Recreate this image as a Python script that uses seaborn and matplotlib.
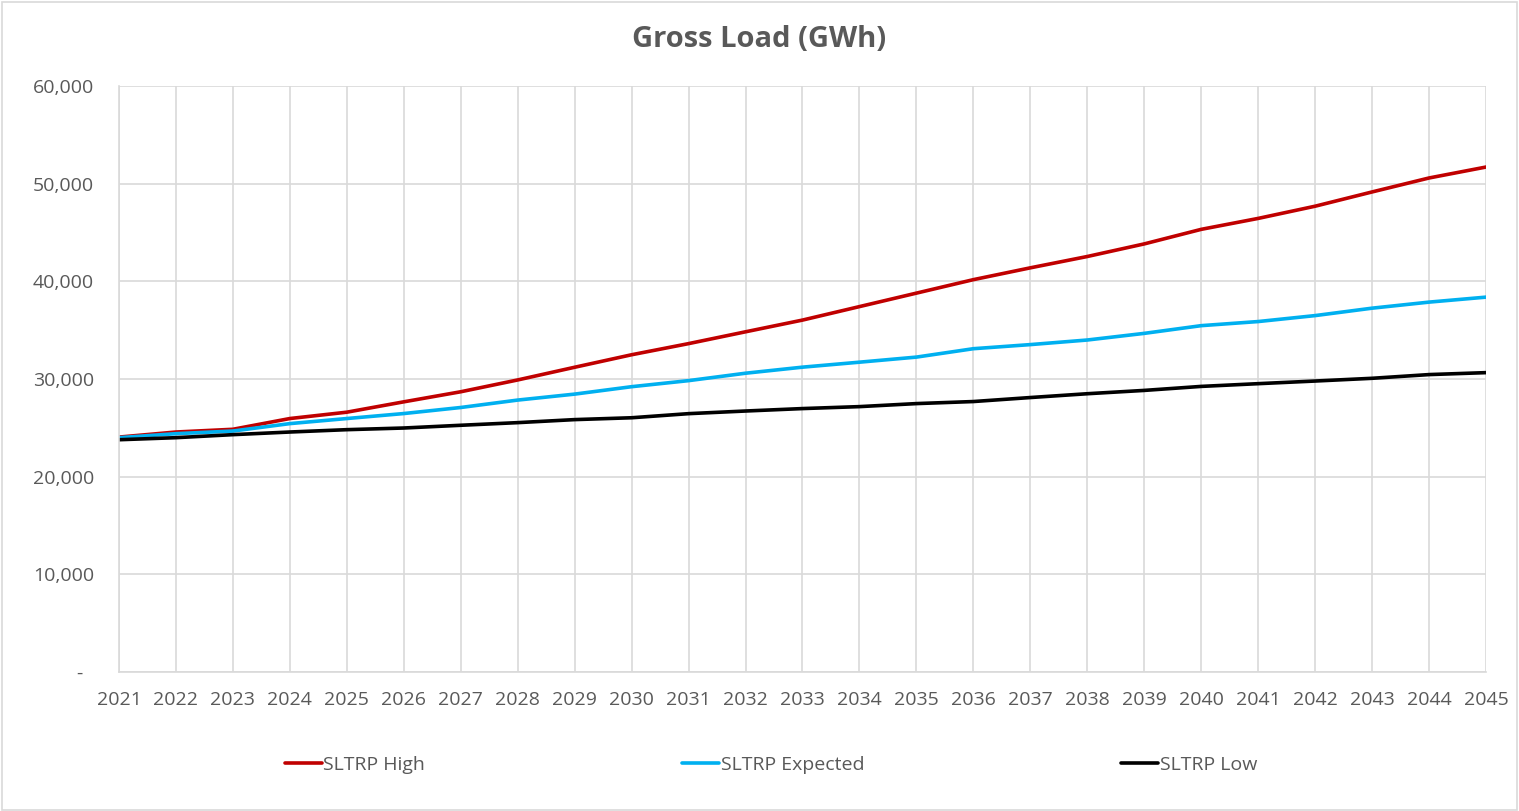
import pandas as pd
import matplotlib.pyplot as plt
import seaborn as sns
from matplotlib.patches import Rectangle

# values (GWh)
years = list(range(2021, 2046))
high = [24050, 24570, 24850, 25950, 26600, 27660, 28690, 29900, 31200, 32480,
        33620, 34830, 36030, 37410, 38790, 40170, 41380, 42540, 43830, 45320,
        46440, 47690, 49150, 50580, 51700]
expected = [23990, 24400, 24670, 25430, 25950, 26460, 27080, 27840, 28450, 29210,
            29830, 30590, 31210, 31720, 32240, 33100, 33520, 33990, 34670, 35460,
            35880, 36490, 37250, 37870, 38380]
low = [23780, 23990, 24300, 24570, 24810, 24980, 25260, 25530, 25840, 26030,
       26450, 26720, 26970, 27170, 27480, 27690, 28100, 28490, 28830, 29240,
       29520, 29790, 30070, 30450, 30650]
series_names = ["SLTRP High", "SLTRP Expected", "SLTRP Low"]
colors = ["#C00000", "#00B0F0", "#000000"]
y_ticks = [0, 10000, 20000, 30000, 40000, 50000, 60000]


def main():
    df = pd.DataFrame({"Year": years * 3,
                       "GWh": high + expected + low,
                       "Scenario": [n for n in series_names for _ in years]})

    sns.set_theme(style="white")
    plt.rcParams["font.family"] = ["Open Sans", "DejaVu Sans"]
    text_col = "#595959"
    grid_col = "#D9D9D9"

    fig = plt.figure(figsize=(15.19, 8.11), dpi=100)
    ax = fig.add_axes([0.0783, 0.1714, 0.9, 0.7226])

    sns.lineplot(data=df, x="Year", y="GWh", hue="Scenario",
                 hue_order=series_names, palette=colors, linewidth=2.6, ax=ax)

    ax.set_xlim(2021, 2045)
    ax.set_ylim(0, 60000)
    ax.set_xticks(years)
    ax.set_xticklabels([str(y) for y in years])
    ax.set_yticks(y_ticks)
    ax.set_yticklabels(["-  " if v == 0 else f"{v:,}" for v in y_ticks])
    ax.grid(True, color=grid_col, linewidth=1.2)
    ax.set_axisbelow(True)
    for side in ["top", "right"]:
        ax.spines[side].set_visible(False)
    for side in ["left", "bottom"]:
        ax.spines[side].set_color(grid_col)
        ax.spines[side].set_linewidth(1.2)
    ax.tick_params(axis="both", length=0, colors=text_col, labelsize=14)
    ax.tick_params(axis="y", pad=18)
    ax.tick_params(axis="x", pad=14)
    ax.set_xlabel("")
    ax.set_ylabel("")

    fig.suptitle("Gross Load (GWh)", x=0.5, y=0.969, fontsize=21,
                 fontweight="bold", color=text_col)

    leg = ax.legend(loc="center", bbox_to_anchor=(0.477, -0.159), ncol=3,
                    frameon=False, fontsize=14, handlelength=1.9,
                    handletextpad=0.1, columnspacing=13.2)
    for t in leg.get_texts():
        t.set_color(text_col)

    # light border around the whole chart area
    fig.patches.append(Rectangle((0.001, 0.001), 0.998, 0.997,
                                 transform=fig.transFigure, fill=False,
                                 edgecolor=grid_col, linewidth=1.2))

    fig.savefig("out.png", dpi=100)


if __name__ == "__main__":
    main()
